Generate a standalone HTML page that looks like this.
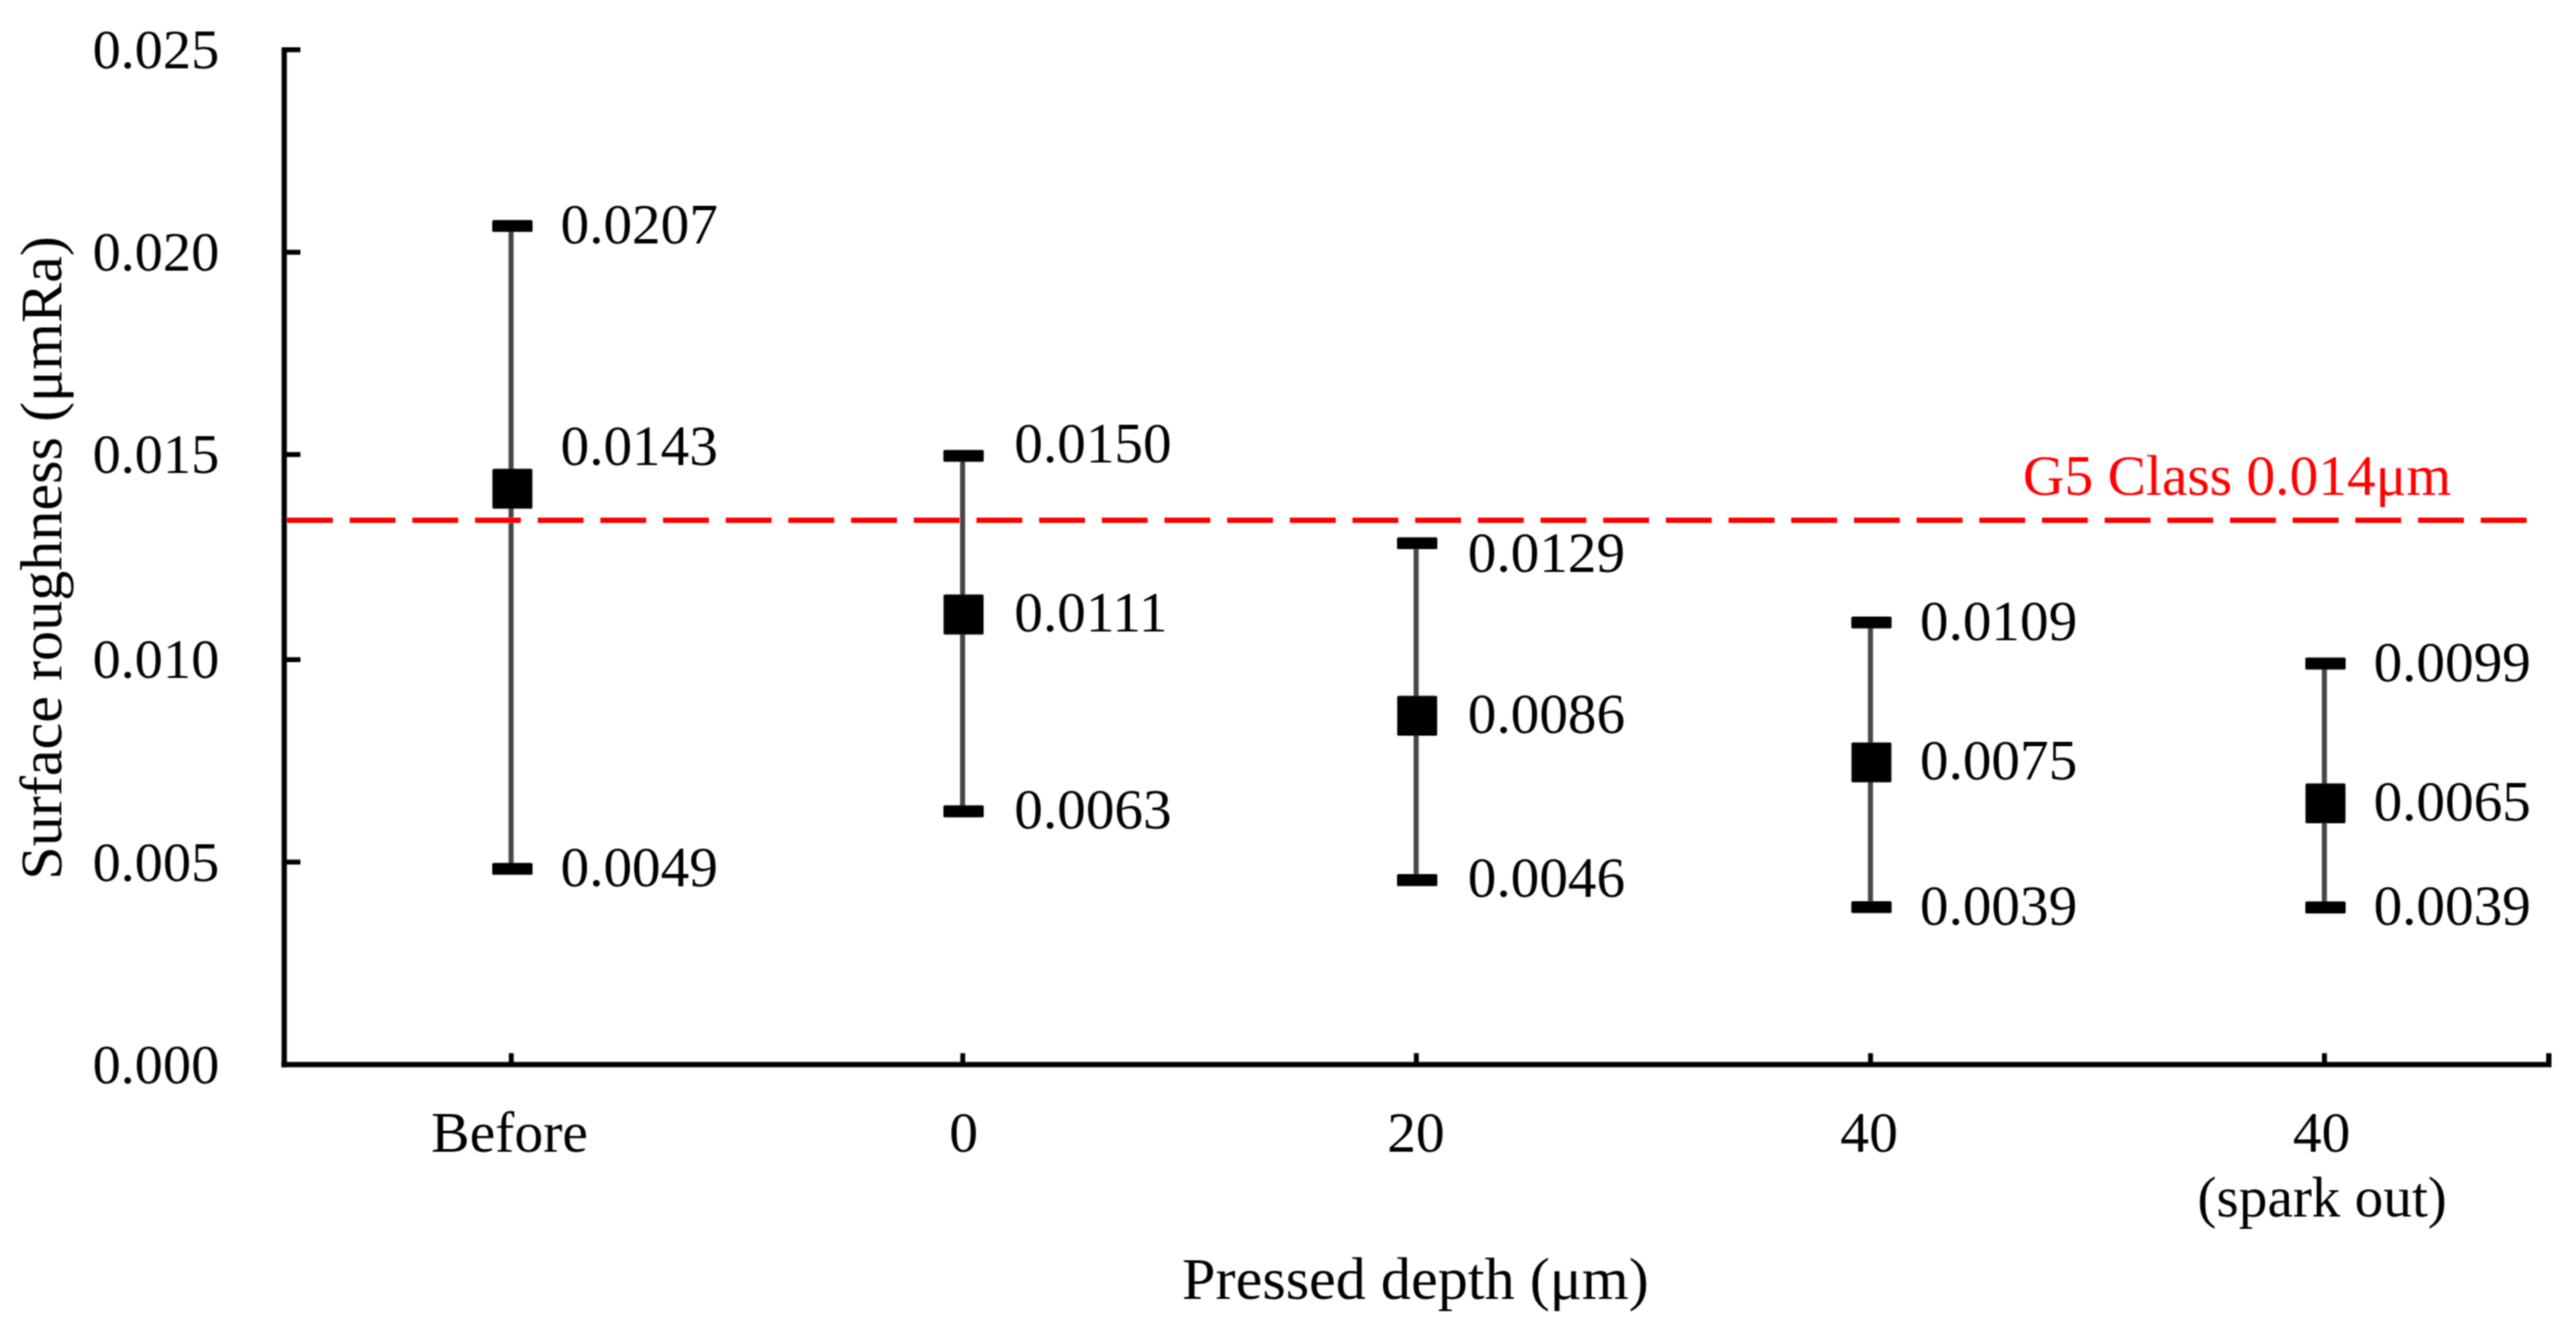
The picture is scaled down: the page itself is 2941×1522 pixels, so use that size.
<!DOCTYPE html><html><head><meta charset="utf-8"><title>Surface roughness chart</title><style>html,body{margin:0;padding:0;background:#fff;}svg{display:block;}text{font-family:"Liberation Serif","Times New Roman",serif;}</style></head><body>
<svg width="2941" height="1522" viewBox="0 0 2941 1522">
<defs><filter id="soft" x="0" y="0" width="100%" height="100%" filterUnits="userSpaceOnUse"><feConvolveMatrix order="3" kernelMatrix="1 2 1 2 4 2 1 2 1" divisor="16" edgeMode="duplicate" preserveAlpha="false"/></filter></defs>
<rect x="0" y="0" width="2941" height="1522" fill="#fff"/>
<g filter="url(#soft)">
<rect x="580.6" y="258.0" width="5.8" height="734.0" fill="#464646"/>
<rect x="1096.1" y="520.5" width="5.8" height="405.9" fill="#464646"/>
<rect x="1613.9" y="620.3" width="5.8" height="384.6" fill="#464646"/>
<rect x="2132.6" y="710.8" width="5.8" height="325.0" fill="#464646"/>
<rect x="2650.8" y="757.6" width="5.8" height="278.5" fill="#464646"/>
<line x1="327.6" y1="594" x2="2884.6" y2="594" stroke="#ff0000" stroke-width="5.8" stroke-dasharray="52.4 19.16"/>
<rect x="562.0" y="251.2" width="46" height="13.6" rx="1.5" fill="#000"/>
<rect x="562.0" y="985.2" width="46" height="13.6" rx="1.5" fill="#000"/>
<rect x="562.2" y="535.2" width="45.6" height="45.6" rx="1.5" fill="#000"/>
<rect x="1077.1" y="513.7" width="46" height="13.6" rx="1.5" fill="#000"/>
<rect x="1077.1" y="919.6" width="46" height="13.6" rx="1.5" fill="#000"/>
<rect x="1077.3" y="678.8" width="45.6" height="45.6" rx="1.5" fill="#000"/>
<rect x="1595.0" y="613.5" width="46" height="13.6" rx="1.5" fill="#000"/>
<rect x="1595.0" y="998.1" width="46" height="13.6" rx="1.5" fill="#000"/>
<rect x="1595.2" y="794.4" width="45.6" height="45.6" rx="1.5" fill="#000"/>
<rect x="2113.6" y="704.0" width="46" height="13.6" rx="1.5" fill="#000"/>
<rect x="2113.6" y="1029.0" width="46" height="13.6" rx="1.5" fill="#000"/>
<rect x="2113.8" y="847.7" width="45.6" height="45.6" rx="1.5" fill="#000"/>
<rect x="2632.0" y="750.8" width="46" height="13.6" rx="1.5" fill="#000"/>
<rect x="2632.0" y="1029.3" width="46" height="13.6" rx="1.5" fill="#000"/>
<rect x="2632.2" y="894.5" width="45.6" height="45.6" rx="1.5" fill="#000"/>
<rect x="321.5" y="54" width="6" height="1164.5" fill="#000"/>
<rect x="321.5" y="1212.5" width="2591.5" height="6" fill="#000"/>
<rect x="327" y="981.5" width="16" height="5.6" fill="#000"/>
<rect x="327" y="750.4" width="16" height="5.6" fill="#000"/>
<rect x="327" y="516.2" width="16" height="5.6" fill="#000"/>
<rect x="327" y="285.2" width="16" height="5.6" fill="#000"/>
<rect x="327" y="54.0" width="16" height="5.6" fill="#000"/>
<rect x="580.9" y="1202.5" width="5.6" height="11" fill="#000"/>
<rect x="1096.4" y="1202.5" width="5.6" height="11" fill="#000"/>
<rect x="1614.2" y="1202.5" width="5.6" height="11" fill="#000"/>
<rect x="2132.8" y="1202.5" width="5.6" height="11" fill="#000"/>
<rect x="2651.0" y="1202.5" width="5.6" height="11" fill="#000"/>
<rect x="2907" y="1202.5" width="6" height="12" fill="#000"/>
<text x="250.3" y="1236.5" font-size="64.3" text-anchor="end">0.000</text>
<text x="250.3" y="1005.5" font-size="64.3" text-anchor="end">0.005</text>
<text x="250.3" y="774.4" font-size="64.3" text-anchor="end">0.010</text>
<text x="250.3" y="540.2" font-size="64.3" text-anchor="end">0.015</text>
<text x="250.3" y="309.2" font-size="64.3" text-anchor="end">0.020</text>
<text x="250.3" y="78.0" font-size="64.3" text-anchor="end">0.025</text>
<text x="640.0" y="277.9" font-size="65.3">0.0207</text>
<text x="640.0" y="531.1" font-size="65.3">0.0143</text>
<text x="640.0" y="1012.0" font-size="65.3">0.0049</text>
<text x="1158.1" y="528.1" font-size="65.3">0.0150</text>
<text x="1158.1" y="721.2" font-size="65.3">0.0111</text>
<text x="1158.1" y="946.3" font-size="65.3">0.0063</text>
<text x="1675.8" y="652.8" font-size="65.3">0.0129</text>
<text x="1675.8" y="837.1" font-size="65.3">0.0086</text>
<text x="1675.8" y="1024.2" font-size="65.3">0.0046</text>
<text x="2192.0" y="730.7" font-size="65.3">0.0109</text>
<text x="2192.0" y="889.9" font-size="65.3">0.0075</text>
<text x="2192.0" y="1055.8" font-size="65.3">0.0039</text>
<text x="2709.9" y="777.5" font-size="65.3">0.0099</text>
<text x="2709.9" y="936.6" font-size="65.3">0.0065</text>
<text x="2709.9" y="1055.8" font-size="65.3">0.0039</text>
<text x="581.8" y="1314.7" font-size="65.8" text-anchor="middle">Before</text>
<text x="1100.2" y="1314.7" font-size="65.8" text-anchor="middle">0</text>
<text x="1616.6" y="1314.7" font-size="65.8" text-anchor="middle">20</text>
<text x="2134.0" y="1314.7" font-size="65.8" text-anchor="middle">40</text>
<text x="2650.6" y="1314.7" font-size="65.8" text-anchor="middle">40</text>
<text x="2651.2" y="1389" font-size="65.3" text-anchor="middle">(spark out)</text>
<text x="1616" y="1482.6" font-size="68.7" text-anchor="middle">Pressed depth (μm)</text>
<text transform="translate(70,637) rotate(-90)" x="0" y="0" font-size="68.7" text-anchor="middle">Surface roughness (μmRa)</text>
<text x="2309.6" y="565.3" font-size="65.6" fill="#ff0000">G5 Class 0.014μm</text>
</g>
</svg></body></html>
